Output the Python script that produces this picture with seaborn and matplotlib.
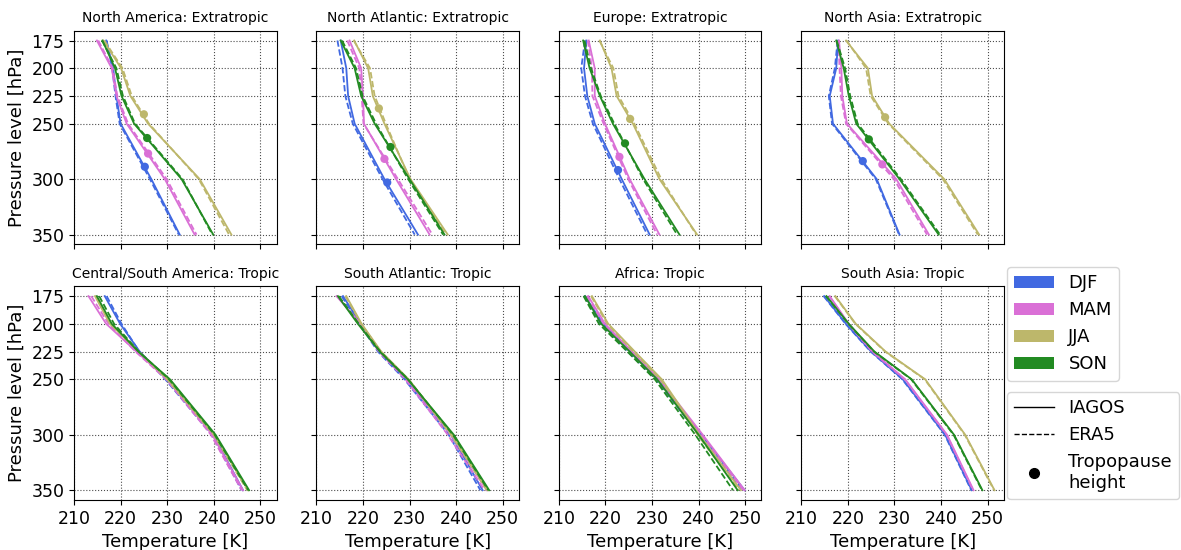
import matplotlib
matplotlib.use("Agg")
import matplotlib.pyplot as plt
import pandas as pd
import seaborn as sns
from matplotlib.patches import Patch
from matplotlib.lines import Line2D

plt.rcParams["font.family"] = ["DejaVu Sans"]

levels = [175, 200, 225, 250, 300, 350]
seasons = ["DJF", "MAM", "JJA", "SON"]
season_colors = ["royalblue", "orchid", "darkkhaki", "forestgreen"]
sources = ["IAGOS", "ERA5"]

titles = ["North America: Extratropic", "North Atlantic: Extratropic",
          "Europe: Extratropic", "North Asia: Extratropic",
          "Central/South America: Tropic", "South Atlantic: Tropic",
          "Africa: Tropic", "South Asia: Tropic"]

# rows: DJF, MAM, JJA, SON ; columns: levels
iagos_north_america = [[216.9, 218.4, 219.1, 220.0, 226.6, 232.7],
                       [214.9, 218.1, 219.1, 221.3, 229.5, 235.9],
                       [216.3, 220.1, 222.1, 225.9, 237.0, 243.8],
                       [216.1, 218.8, 220.2, 222.9, 233.1, 239.9]]
era5_north_america = [[217.0, 218.2, 218.9, 219.8, 226.3, 232.5],
                      [215.2, 218.3, 219.3, 221.6, 229.9, 236.3],
                      [216.5, 220.4, 222.4, 226.1, 236.8, 243.3],
                      [216.0, 219.1, 220.5, 223.1, 233.3, 239.7]]

iagos_north_atlantic = [[215.2, 216.4, 216.8, 218.2, 224.6, 231.8],
                        [217.1, 219.6, 220.0, 220.2, 227.1, 234.3],
                        [218.1, 221.1, 222.1, 224.6, 230.2, 238.2],
                        [215.2, 218.2, 219.6, 222.5, 230.0, 237.5]]
era5_north_atlantic = [[214.5, 215.6, 216.2, 217.8, 224.2, 231.1],
                       [216.6, 219.2, 219.7, 220.1, 227.5, 234.9],
                       [218.0, 221.5, 222.5, 224.9, 230.0, 237.8],
                       [215.5, 218.5, 219.9, 222.8, 229.7, 237.2]]

iagos_europe = [[215.9, 215.4, 216.1, 217.7, 223.5, 229.5],
                [216.4, 217.7, 217.7, 219.9, 225.2, 231.6],
                [218.8, 221.3, 222.4, 225.9, 231.6, 239.7],
                [215.2, 216.6, 218.8, 221.6, 228.4, 235.9]]
era5_europe = [[215.6, 214.8, 215.6, 217.3, 223.0, 229.0],
               [216.2, 217.1, 217.2, 219.6, 224.9, 231.1],
               [218.7, 221.7, 222.8, 226.2, 232.0, 239.5],
               [215.5, 216.9, 219.0, 221.9, 228.1, 235.4]]

iagos_north_asia = [[217.9, 217.5, 216.1, 216.8, 226.2, 231.1],
                    [218.1, 218.6, 218.8, 219.8, 230.4, 237.4],
                    [219.6, 224.3, 225.2, 228.9, 240.7, 248.2],
                    [217.5, 219.1, 220.2, 221.8, 231.1, 239.5]]
era5_north_asia = [[217.8, 217.2, 215.9, 216.6, 226.0, 231.0],
                   [218.0, 218.2, 218.5, 219.6, 229.9, 237.0],
                   [219.7, 223.9, 224.9, 228.7, 240.4, 247.9],
                   [217.6, 219.4, 220.5, 222.1, 231.4, 239.8]]

iagos_cs_america = [[216.6, 219.9, 224.1, 229.9, 239.9, 246.3],
                    [213.1, 216.9, 223.4, 230.0, 239.7, 246.3],
                    [214.5, 217.7, 223.9, 230.2, 240.1, 247.4],
                    [214.9, 218.1, 223.8, 230.6, 240.4, 247.6]]
era5_cs_america = [[217.0, 220.2, 224.0, 229.6, 239.6, 246.0],
                   [213.7, 217.4, 223.2, 229.8, 239.4, 246.0],
                   [214.7, 218.0, 223.9, 230.0, 240.0, 247.2],
                   [215.4, 218.6, 223.9, 230.4, 240.2, 247.4]]

iagos_south_atlantic = [[215.7, 219.5, 223.6, 229.3, 238.9, 245.7],
                        [214.3, 219.5, 223.8, 229.5, 238.9, 246.6],
                        [216.4, 219.7, 223.9, 229.8, 239.1, 246.8],
                        [214.6, 218.9, 223.6, 229.6, 239.5, 247.1]]
era5_south_atlantic = [[215.4, 219.2, 223.2, 228.9, 238.4, 245.2],
                       [214.5, 219.3, 223.4, 229.1, 238.2, 246.1],
                       [216.2, 219.6, 223.8, 229.7, 238.9, 246.6],
                       [214.8, 219.1, 223.7, 229.7, 239.3, 246.9]]

iagos_africa = [[215.6, 219.5, 225.4, 231.3, 240.6, 249.9],
                [216.3, 219.9, 225.7, 231.6, 240.9, 249.9],
                [217.1, 220.6, 226.3, 232.1, 240.2, 249.1],
                [215.6, 219.1, 225.2, 231.1, 240.0, 248.4]]
era5_africa = [[215.4, 219.0, 224.8, 230.8, 240.1, 249.5],
               [216.0, 219.6, 225.3, 231.2, 240.5, 249.6],
               [216.9, 220.4, 226.0, 231.8, 239.8, 248.7],
               [215.3, 218.6, 224.7, 230.6, 239.3, 247.4]]

iagos_south_asia = [[214.9, 219.6, 225.0, 231.8, 240.9, 246.6],
                    [216.1, 220.2, 225.3, 232.3, 241.3, 247.0],
                    [217.3, 221.7, 228.1, 236.6, 245.2, 251.5],
                    [215.4, 220.2, 225.7, 233.7, 242.8, 248.9]]
era5_south_asia = [[214.8, 219.5, 224.9, 231.7, 240.8, 246.5],
                   [216.0, 220.1, 225.2, 232.2, 241.2, 246.9],
                   [217.2, 221.6, 228.0, 236.5, 245.1, 251.4],
                   [215.3, 220.1, 225.6, 233.6, 242.7, 248.8]]

# tropopause height (temperature, pressure) per season, extratropical regions
trop_t_north_america = [225.2, 225.9, 225.0, 225.7]
trop_p_north_america = [288.8, 276.9, 241.5, 262.9]
trop_t_north_atlantic = [225.2, 224.6, 223.4, 225.9]
trop_p_north_atlantic = [303.0, 281.7, 236.2, 271.0]
trop_t_europe = [222.7, 223.0, 225.3, 224.2]
trop_p_europe = [291.8, 279.9, 245.7, 267.7]
trop_t_north_asia = [223.2, 227.4, 228.0, 224.5]
trop_p_north_asia = [283.7, 286.7, 244.2, 264.1]

iagos_all = [iagos_north_america, iagos_north_atlantic, iagos_europe, iagos_north_asia,
             iagos_cs_america, iagos_south_atlantic, iagos_africa, iagos_south_asia]
era5_all = [era5_north_america, era5_north_atlantic, era5_europe, era5_north_asia,
            era5_cs_america, era5_south_atlantic, era5_africa, era5_south_asia]
trop_all = [(trop_t_north_america, trop_p_north_america),
            (trop_t_north_atlantic, trop_p_north_atlantic),
            (trop_t_europe, trop_p_europe),
            (trop_t_north_asia, trop_p_north_asia),
            None, None, None, None]

fig, axes = plt.subplots(2, 4, figsize=(11.81, 5.5), dpi=100, sharex=True, sharey=True)
fig.subplots_adjust(left=0.0627, right=0.850, top=0.944, bottom=0.091,
                    wspace=0.197, hspace=0.197)

for i, ax in enumerate(axes.flat):
    rows = []
    for src, table in (("ERA5", era5_all[i]), ("IAGOS", iagos_all[i])):
        for s, vals in zip(seasons, table):
            for p, t in zip(levels, vals):
                rows.append({"T": t, "P": p, "season": s, "source": src})
    df = pd.DataFrame(rows)
    sns.lineplot(data=df, x="T", y="P", hue="season", hue_order=seasons,
                 palette=season_colors, style="source", style_order=sources,
                 dashes={"IAGOS": "", "ERA5": (3.5, 1.5)}, estimator=None,
                 orient="y", sort=True, legend=False, linewidth=1.3, ax=ax)
    if trop_all[i] is not None:
        tt, tp = trop_all[i]
        dft = pd.DataFrame({"T": tt, "P": tp, "season": seasons})
        sns.scatterplot(data=dft, x="T", y="P", hue="season", hue_order=seasons,
                        palette=season_colors, s=35, linewidth=0, legend=False,
                        ax=ax, zorder=5)
    ax.set_title(titles[i], fontsize=10)
    ax.grid(True, linestyle=":", color="0.3", linewidth=0.8)
    ax.set_xlabel("")
    ax.set_ylabel("")
    ax.tick_params(labelsize=12.5)

axes[0, 0].set_xlim(210, 253.5)
axes[0, 0].set_xticks([210, 220, 230, 240, 250])
axes[0, 0].set_yticks(levels)
axes[0, 0].set_ylim(358.75, 166.25)

for ax in axes[1]:
    ax.set_xlabel("Temperature [K]", fontsize=13)
for ax in axes[:, 0]:
    ax.set_ylabel("Pressure level [hPa]", fontsize=13)

season_handles = [Patch(facecolor=c, label=s) for s, c in zip(seasons, season_colors)]
leg1 = fig.legend(handles=season_handles, loc="upper left",
                  bbox_to_anchor=(1007 / 1181, 1 - 267 / 550),
                  borderaxespad=0, fontsize=13, handlelength=2.2)
style_handles = [Line2D([], [], color="k", lw=1, label="IAGOS"),
                 Line2D([], [], color="k", lw=1, ls="--", label="ERA5"),
                 Line2D([], [], color="k", ls="", marker="o", markersize=7,
                        label="Tropopause\nheight")]
leg2 = fig.legend(handles=style_handles, loc="upper left",
                  bbox_to_anchor=(1007 / 1181, 1 - 392 / 550),
                  borderaxespad=0, fontsize=13, handlelength=2.2)

fig.savefig("out.png", dpi=100)
